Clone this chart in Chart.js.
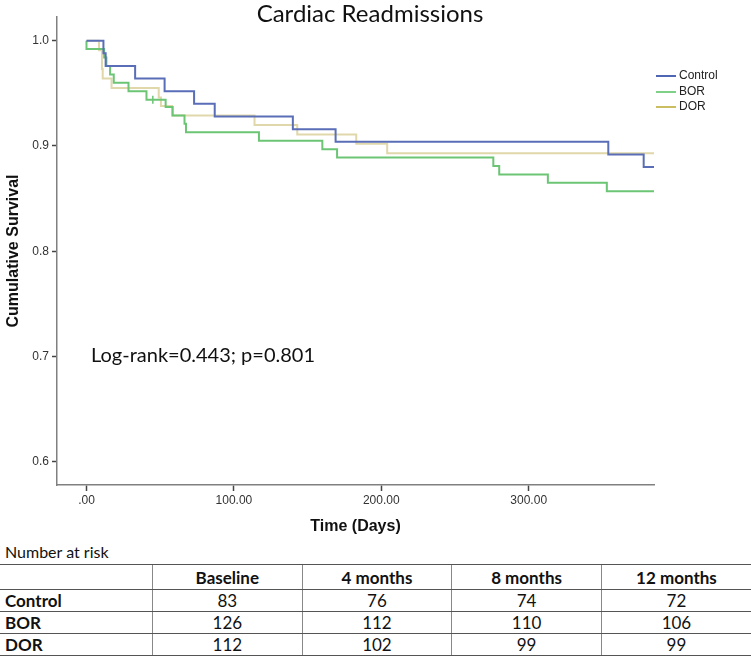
<!DOCTYPE html>
<html><head><meta charset="utf-8">
<script src="https://cdn.jsdelivr.net/npm/chart.js@4"></script>
<style>
body{margin:0;background:#fff;width:751px;height:662px;overflow:hidden;position:relative;}
#c{position:absolute;left:0;top:0;}
#risk{position:absolute;left:0;top:542px;width:751px;font-family:Lato,'Open Sans',sans-serif;color:#111;}
.rt{font-size:16px;margin:0 0 2px 5px;height:20px;line-height:20px;}
table{border-collapse:collapse;width:751px;table-layout:fixed;font-size:17px;}
td,th{height:21px;padding:0;text-align:center;border-top:1px solid #555;border-bottom:1px solid #555;border-left:1px solid #888;}
th{height:24px;}
td:first-child,th:first-child{border-left:none;text-align:left;padding-left:5px;font-weight:bold;}
th{font-weight:bold;}
</style></head>
<body>
<canvas id="c" width="751" height="540"></canvas>
<div id="risk"><div class="rt">Number at risk</div><table id="tbl"></table></div>
<script>
// ---- data ----
const seriesNames = ['Control', 'BOR', 'DOR'];
const controlDays = [0, 11.5, 13, 33, 53, 73, 87, 140, 169, 354, 378, 385];
const controlSurv = [1.0, 0.988, 0.976, 0.964, 0.952, 0.940, 0.928, 0.916, 0.904, 0.892, 0.880, 0.880];
const borDays = [0, 0, 12, 13.5, 16, 18.5, 28.5, 40.7, 53.7, 58.5, 66.5, 67.5, 117, 160, 170, 276, 280, 313, 353, 385];
const borSurv = [1.0, 0.992, 0.984, 0.976, 0.968, 0.960, 0.952, 0.944, 0.937, 0.929, 0.921, 0.913, 0.905, 0.897, 0.889, 0.881, 0.873, 0.865, 0.857, 0.857];
const dorDays = [0, 8.5, 10.5, 11, 17, 49, 50.5, 58, 114, 143, 183, 204, 385];
const dorSurv = [1.0, 0.991, 0.973, 0.964, 0.955, 0.946, 0.938, 0.929, 0.920, 0.911, 0.902, 0.893, 0.893];
const borCensorDays = [45];
const borCensorSurv = [0.944];
const xTicks = [0, 100, 200, 300];
const xTickLabels = ['.00', '100.00', '200.00', '300.00'];
const yTicks = [0.6, 0.7, 0.8, 0.9, 1.0];
const yTickLabels = ['0.6', '0.7', '0.8', '0.9', '1.0'];
const statText = 'Log-rank=0.443; p=0.801';
const riskCols = ['Baseline', '4 months', '8 months', '12 months'];
const riskControl = [83, 76, 74, 72];
const riskBOR = [126, 112, 110, 106];
const riskDOR = [112, 102, 99, 99];

// ---- styles ----
const colors = ['#5a6eb8', '#6cc575', '#e0d7aa'];
const legendColors = ['#4e66b4', '#7fd088', '#cbbd62'];
const AX = "'Liberation Sans', Arial, sans-serif";
const CAL = "Lato, 'Open Sans', sans-serif";

const pts = (xs, ys) => xs.map((x, i) => ({x: x, y: ys[i]}));

const overlay = {
  id: 'overlay',
  afterDraw(chart) {
    const ctx = chart.ctx;
    ctx.save();
    ctx.fillStyle = '#111';
    ctx.textBaseline = 'middle';
    ctx.textAlign = 'center';
    ctx.font = "24px " + CAL;
    ctx.fillText('Cardiac Readmissions', 370, 14);
    ctx.textAlign = 'left';
    ctx.font = "20px " + CAL;
    ctx.fillText(statText, 91, 356);
    // legend
    ctx.font = "12px " + AX;
    const ly = [76, 92, 107];
    seriesNames.forEach((n, i) => {
      ctx.strokeStyle = legendColors[i];
      ctx.lineWidth = 2;
      ctx.beginPath(); ctx.moveTo(656, ly[i]); ctx.lineTo(676, ly[i]); ctx.stroke();
      ctx.fillStyle = '#222';
      ctx.fillText(n, 679, ly[i]);
    });
    ctx.restore();
  }
};

new Chart(document.getElementById('c'), {
  type: 'line',
  data: {
    datasets: [
      {label: 'DOR', data: pts(dorDays, dorSurv), borderColor: colors[2], borderWidth: 2, stepped: true, pointRadius: 0, fill: false, order: 3},
      {label: 'BOR', data: pts(borDays, borSurv), borderColor: colors[1], borderWidth: 2, stepped: true, pointRadius: 0, fill: false, order: 2},
      {label: 'Control', data: pts(controlDays, controlSurv), borderColor: colors[0], borderWidth: 2, stepped: true, pointRadius: 0, fill: false, order: 1},
      {type: 'scatter', label: 'BOR censored', data: pts(borCensorDays, borCensorSurv), pointStyle: 'line', rotation: 90, pointRadius: 4, borderColor: colors[1], borderWidth: 1.5, order: 0}
    ]
  },
  options: {
    responsive: false,
    animation: false,
    layout: {padding: {left: 0, top: 17, right: 97, bottom: 0}},
    plugins: {legend: {display: false}, tooltip: {enabled: false}, title: {display: false}},
    scales: {
      x: {
        type: 'linear', min: -20, max: 385,
        afterBuildTicks: s => { s.ticks = xTicks.map(v => ({value: v})); },
        afterFit: s => { s.height = 55; },
        ticks: {callback: v => xTickLabels[xTicks.indexOf(v)], font: {family: AX, size: 12}, color: '#333', padding: 2, maxRotation: 0, autoSkip: false},
        grid: {drawOnChartArea: false, drawTicks: true, tickLength: 6, tickColor: '#444', tickWidth: 1.5},
        border: {display: true, color: '#808080', width: 1.5},
        title: {display: true, text: 'Time (Days)', font: {family: AX, size: 16, weight: 'bold'}, color: '#111', padding: {top: 4, bottom: 4}}
      },
      y: {
        type: 'linear', min: 0.578, max: 1.0225,
        afterBuildTicks: s => { s.ticks = yTicks.map(v => ({value: v})); },
        afterFit: s => { s.width = 57; },
        ticks: {callback: v => yTickLabels[yTicks.findIndex(t => Math.abs(t - v) < 1e-9)], font: {family: AX, size: 12}, color: '#333', padding: 3, autoSkip: false},
        grid: {drawOnChartArea: false, drawTicks: true, tickLength: 5, tickColor: '#444', tickWidth: 1.5},
        border: {display: true, color: '#808080', width: 1.5},
        title: {display: true, text: 'Cumulative Survival', font: {family: AX, size: 16, weight: 'bold'}, color: '#111', padding: {top: 4, bottom: 4}}
      }
    }
  },
  plugins: [overlay]
});

// ---- risk table ----
const tbl = document.getElementById('tbl');
let html = '<tr><th></th>' + riskCols.map(c => '<th>' + c + '</th>').join('') + '</tr>';
[['Control', riskControl], ['BOR', riskBOR], ['DOR', riskDOR]].forEach(r => {
  html += '<tr><td>' + r[0] + '</td>' + r[1].map(v => '<td>' + v + '</td>').join('') + '</tr>';
});
tbl.innerHTML = html;
tbl.querySelectorAll('tr').forEach(tr => {
  tr.children[0].style.width = '147px';
});
</script>
</body></html>
